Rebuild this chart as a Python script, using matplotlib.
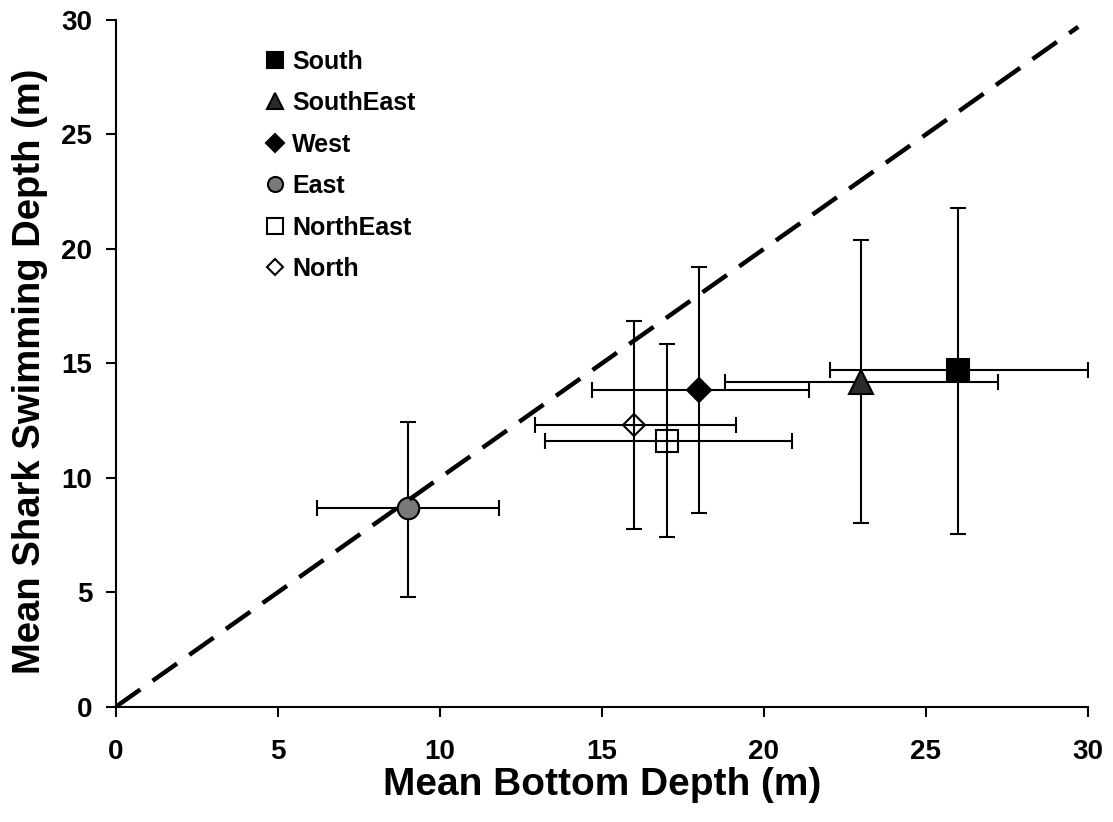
import numpy as np
from matplotlib import pyplot as plt

plt.rcParams['font.family'] = ['Liberation Sans', 'DejaVu Sans']
plt.rcParams['font.weight'] = 'bold'

# regions and their mean bottom / swimming depths (m)
regions = ['South', 'SouthEast', 'West', 'East', 'NorthEast', 'North']
bottom = [26.0, 23.0, 18.0, 9.0, 17.0, 16.0]
bottom_lo = [22.04, 18.8, 14.68, 6.21, 13.24, 12.93]
bottom_hi = [30.0, 27.23, 21.4, 11.82, 20.86, 19.13]
swim = [14.71, 14.2, 13.84, 8.67, 11.62, 12.31]
swim_lo = [7.54, 8.01, 8.45, 4.8, 7.40, 7.75]
swim_hi = [21.8, 20.4, 19.2, 12.45, 15.83, 16.85]

markers = ['s', '^', 'D', 'o', 's', 'D']
faces = ['black', '#2b2b2b', 'black', '#7a7a7a', 'none', 'none']
msizes = [16.5, 17, 12.7, 15.5, 16.5, 11.7]

fig = plt.figure(figsize=(11.13, 8.22), dpi=100)
ax = fig.add_axes([0.1042, 0.1403, 0.9775 - 0.1042, 0.9757 - 0.1403])

for i, name in enumerate(regions):
    xe = [[bottom[i] - bottom_lo[i]], [bottom_hi[i] - bottom[i]]]
    ye = [[swim[i] - swim_lo[i]], [swim_hi[i] - swim[i]]]
    ax.errorbar(bottom[i], swim[i], xerr=xe, yerr=ye, fmt='none', ecolor='black',
                elinewidth=1.5, capsize=6, capthick=1.5, zorder=2)
    ax.plot(bottom[i], swim[i], marker=markers[i], ms=msizes[i], mfc=faces[i],
            mec='black', mew=1.5, ls='none', label=name, zorder=3)

line, = ax.plot([0, 29.7], [0, 29.7], color='black', lw=3.2, zorder=4)
line.set_dashes((6.7, 3.4))

ax.set_xlim(0, 30)
ax.set_ylim(0, 30)
ax.set_xticks(np.arange(0, 31, 5))
ax.set_yticks(np.arange(0, 31, 5))
ax.tick_params(axis='both', direction='out', length=7, width=1.5, labelsize=20)
ax.tick_params(axis='x', pad=16)
ax.tick_params(axis='y', pad=10)
for s in ['top', 'right']:
    ax.spines[s].set_visible(False)
for s in ['left', 'bottom']:
    ax.spines[s].set_linewidth(1.5)

ax.set_xlabel('Mean Bottom Depth (m)', fontsize=28, fontweight='bold', labelpad=2)
ax.set_ylabel('Mean Shark Swimming Depth (m)', fontsize=27.5, fontweight='bold', labelpad=8)
ax.yaxis.set_label_coords(-0.07, 0.488)

ax.legend(loc='upper left', bbox_to_anchor=(0.14, 0.975), frameon=False, fontsize=18,
          markerscale=0.7, handlelength=0.8, handletextpad=0.3, labelspacing=0.7,
          borderpad=0)

plt.savefig('out.png', dpi=100)
